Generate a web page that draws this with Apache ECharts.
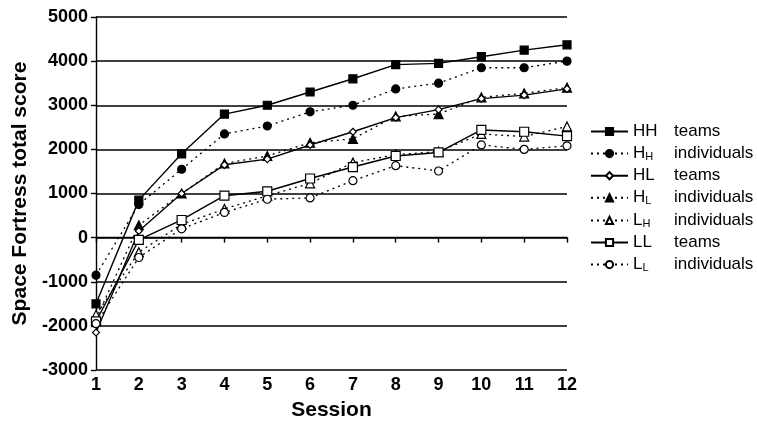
<!DOCTYPE html>
<html>
<head>
<meta charset="utf-8">
<script src="https://cdn.jsdelivr.net/npm/echarts@6/dist/echarts.min.js"></script>
<style>html,body{margin:0;padding:0;background:#fff;}#c{width:757px;height:426px;}</style>
</head>
<body>
<div id="c"></div>
<script>
var sessions = [1,2,3,4,5,6,7,8,9,10,11,12];
var yTicks = [-3000,-2000,-1000,0,1000,2000,3000,4000,5000];
var hhTeams = [-1500, 850, 1900, 2800, 3000, 3300, 3600, 3920, 3950, 4100, 4250, 4370];
var hhInd   = [-850, 750, 1550, 2350, 2530, 2850, 3000, 3370, 3500, 3850, 3850, 4000];
var hlTeams = [-2150, 150, 1000, 1650, 1780, 2100, 2400, 2720, 2900, 3150, 3230, 3370];
var hlInd   = [-1850, 280, 1000, 1680, 1850, 2150, 2240, 2750, 2800, 3180, 3270, 3400];
var lhInd   = [-1750, -330, 300, 650, 950, 1230, 1700, 1880, 1950, 2350, 2290, 2520];
var llTeams = [-1900, -50, 400, 950, 1050, 1340, 1600, 1850, 1930, 2440, 2400, 2300];
var llInd   = [-1950, -450, 200, 570, 870, 900, 1290, 1630, 1510, 2100, 2000, 2080];
var names = ['HH teams','HH individuals','HL teams','HL individuals','LH individuals','LL teams','LL individuals'];
var labels = {
  'HH teams': '{n|HH}{w|teams}',
  'HH individuals': '{n1|H}{sa|H}{w|individuals}',
  'HL teams': '{n|HL}{w|teams}',
  'HL individuals': '{n1|H}{sa|L}{w|individuals}',
  'LH individuals': '{n1|L}{sb|H}{w|individuals}',
  'LL teams': '{n|LL}{w|teams}',
  'LL individuals': '{n1|L}{sb|L}{w|individuals}'
};
function pair(arr){ return sessions.map(function(s,i){ return [s, arr[i]]; }); }
function mk(name, arr, symbol, filled, dotted, size){
  return {
    name: name, type: 'line', data: pair(arr),
    symbol: symbol, symbolSize: size,
    showAllSymbol: true,
    lineStyle: {color: '#000', width: dotted ? 1.3 : 1.4, type: dotted ? [2,4] : 'solid'},
    itemStyle: {color: filled ? '#000' : '#fff', borderColor: '#000', borderWidth: 1.2, opacity: 1},
    emphasis: {disabled: true},
    z: filled ? 3 : 4,
    animation: false
  };
}
var chart = echarts.init(document.getElementById('c'), null, {renderer: 'canvas'});
var FONT = '"Liberation Sans", Arial, Helvetica, sans-serif';
chart.setOption({
  backgroundColor: '#fff',
  animation: false,
  grid: {left: 96, right: 190, top: 17, bottom: 56, containLabel: false},
  xAxis: {
    type: 'value', min: 1, max: 12, interval: 1,
    name: 'Session', nameLocation: 'middle', nameGap: 30,
    nameTextStyle: {fontFamily: FONT, fontWeight: 'bold', fontSize: 21, color: '#000'},
    axisLine: {lineStyle: {color: '#000', width: 1.4}},
    axisTick: {show: true, length: 5, lineStyle: {color: '#000', width: 1.4}},
    axisLabel: {fontFamily: FONT, fontSize: 18, fontWeight: 'bold', color: '#000', margin: 6},
    splitLine: {show: false}
  },
  yAxis: {
    type: 'value', min: -3000, max: 5000, interval: 1000,
    name: 'Space Fortress total score', nameLocation: 'middle', nameGap: 62,
    nameTextStyle: {fontFamily: FONT, fontWeight: 'bold', fontSize: 21, color: '#000'},
    axisLine: {show: true, lineStyle: {color: '#000', width: 1.4}},
    axisTick: {show: true, length: 5, lineStyle: {color: '#000', width: 1.4}},
    axisLabel: {fontFamily: FONT, fontSize: 18, fontWeight: 'bold', color: '#000', margin: 8,
      formatter: function(v){ return yTicks.indexOf(v) >= 0 ? String(v) : ''; }},
    splitLine: {show: true, lineStyle: {color: '#000', width: 1.5}}
  },
  legend: {
    orient: 'vertical', left: 590, top: 123, padding: 0,
    itemWidth: 37, itemHeight: 9, itemGap: 4.6,
    data: names,
    formatter: function(n){ return labels[n]; },
    textStyle: {
      fontFamily: FONT, fontSize: 17, color: '#000',
      rich: {
        n: {fontFamily: FONT, fontSize: 17, color: '#000', width: 41, lineHeight: 20},
        n1: {fontFamily: FONT, fontSize: 17, color: '#000', lineHeight: 20},
        sa: {fontFamily: FONT, fontSize: 11, color: '#000', width: 28.7, padding: [7,0,0,0], lineHeight: 20},
        sb: {fontFamily: FONT, fontSize: 11, color: '#000', width: 31.5, padding: [7,0,0,0], lineHeight: 20},
        w: {fontFamily: FONT, fontSize: 17, color: '#000', lineHeight: 20}
      }
    }
  },
  series: [
    mk('HH teams', hhTeams, 'rect', true, false, 8),
    mk('HH individuals', hhInd, 'circle', true, true, 8),
    mk('HL teams', hlTeams, 'diamond', false, false, 7),
    mk('HL individuals', hlInd, 'triangle', true, true, 9),
    mk('LH individuals', lhInd, 'triangle', false, true, 9),
    mk('LL teams', llTeams, 'rect', false, false, 9),
    mk('LL individuals', llInd, 'circle', false, true, 8)
  ]
});
</script>
</body>
</html>
